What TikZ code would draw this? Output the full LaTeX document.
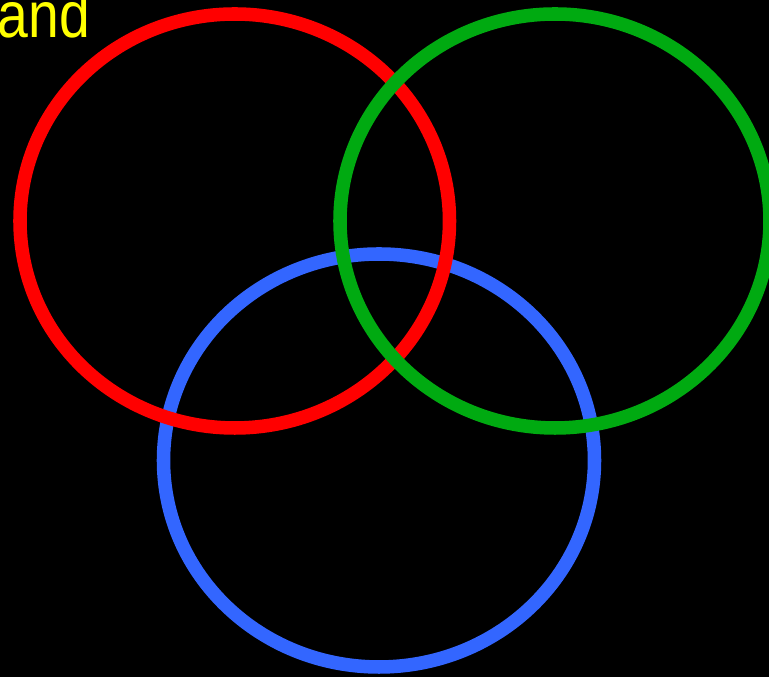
\documentclass[tikz,border=0pt]{standalone}
\usepackage{fontspec}
\usepackage{graphicx}
\setmainfont{Liberation Sans}
\usepackage{tikz}
\definecolor{ringred}{HTML}{FF0000}
\definecolor{ringgreen}{HTML}{00AA11}
\definecolor{ringblue}{HTML}{3366FF}
\definecolor{labelyellow}{HTML}{FFFF00}

\begin{document}
\begin{tikzpicture}[
    x=0.01cm, y=-0.01cm,
    ring/.style={line width=3.85pt},
    label/.style={
        anchor=base west, inner sep=0pt, text=labelyellow,
        font=\fontsize{18.5}{20}\selectfont
    }
]

% Canvas
\useasboundingbox (0,0) rectangle (769,677);
\fill[black] (0,0) rectangle (769,677);
\clip (0,0) rectangle (769,677);

% Centres
\coordinate (cred) at (234.75,221);
\coordinate (cgreen) at (555,221);
\coordinate (cblue) at (379,460.5);

% Rings
\draw[ring, ringblue] (cblue) ellipse [x radius=215.5, y radius=206.5];
\draw[ring, ringred] (cred) ellipse [x radius=214.75, y radius=207];
\draw[ring, ringgreen] (cgreen) ellipse [x radius=215, y radius=207];

% Text
\node[label] (andtext) at (-3,38) {\scalebox{0.85}[1]{and}};

\end{tikzpicture}
\end{document}
